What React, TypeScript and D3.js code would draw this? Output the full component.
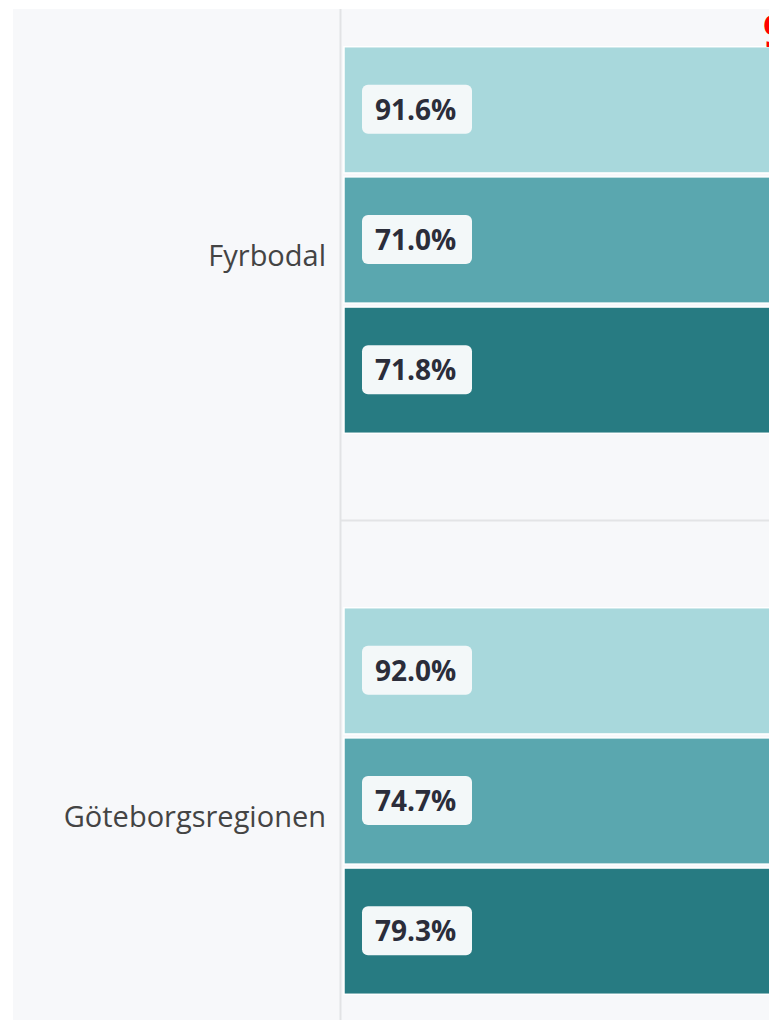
import React from 'react';
import * as d3 from 'd3';

const regions = ['Fyrbodal', 'Göteborgsregionen'];
const series = ['a', 'b', 'c'];
const values = [
	[91.6, 71.0, 71.8],
	[92.0, 74.7, 79.3],
];
const colors = ['#a8d8dc', '#5aa7af', '#277b82'];

const W = 769;
const H = 1020;

export default function App() {
	// group bands, the first one starts above the visible area
	const gy = d3.scaleBand<string>().domain(regions).range([-40.5, -40.5 + 561 * regions.length]);
	const sy = d3.scaleBand<string>().domain(series).range([0, gy.step()]).paddingInner(0.03).paddingOuter(0.67);
	const x = d3.scaleLinear().domain([0, 100]).range([344, 1400]);

	return (
		<svg width={W} height={H} style={{ position: 'absolute', left: 0, top: 0, display: 'block' }}
			fontFamily="'Open Sans', sans-serif">
			<rect x={0} y={0} width={W} height={H} fill="#fff" />
			<rect x={13} y={9} width={W} height={H} fill="#f7f8fa" />
			{regions.map((r, gi) => (
				<g key={r} transform={`translate(0,${gy(r)})`}>
					{gi > 0 && <line x1={341} x2={W} y1={0} y2={0} stroke="#e3e4e6" strokeWidth={2} />}
					<text x={326} y={gy.bandwidth() / 2 + 16} dy="0.35em" textAnchor="end" fontSize={29} fill="#444">{r}</text>
					{series.map((s, si) => {
						const v = values[gi][si];
						const by = sy(s)!;
						const bh = sy.bandwidth();
						return (
							<g key={s}>
								<rect x={x(0)} y={by} width={x(v) - x(0)} height={bh} fill={colors[si]} stroke="#fff" strokeWidth={1.5} />
								<rect x={x(0) + 18} y={by + bh / 2 - 25} width={110} height={49} rx={6} fill="#f3f8f9" />
								<text x={x(0) + 31} y={by + bh / 2} dy="0.35em" fontSize={28} fontWeight="bold" fill="#2b2d3a">
									{d3.format('.1f')(v)}%
								</text>
							</g>
						);
					})}
				</g>
			))}
			<line x1={340.5} x2={340.5} y1={9} y2={H} stroke="#e2e3e5" strokeWidth={2} />
			<text x={763} y={47} fontSize={44} fontWeight="bold" fill="#ff0000">90%</text>
		</svg>
	);
}
